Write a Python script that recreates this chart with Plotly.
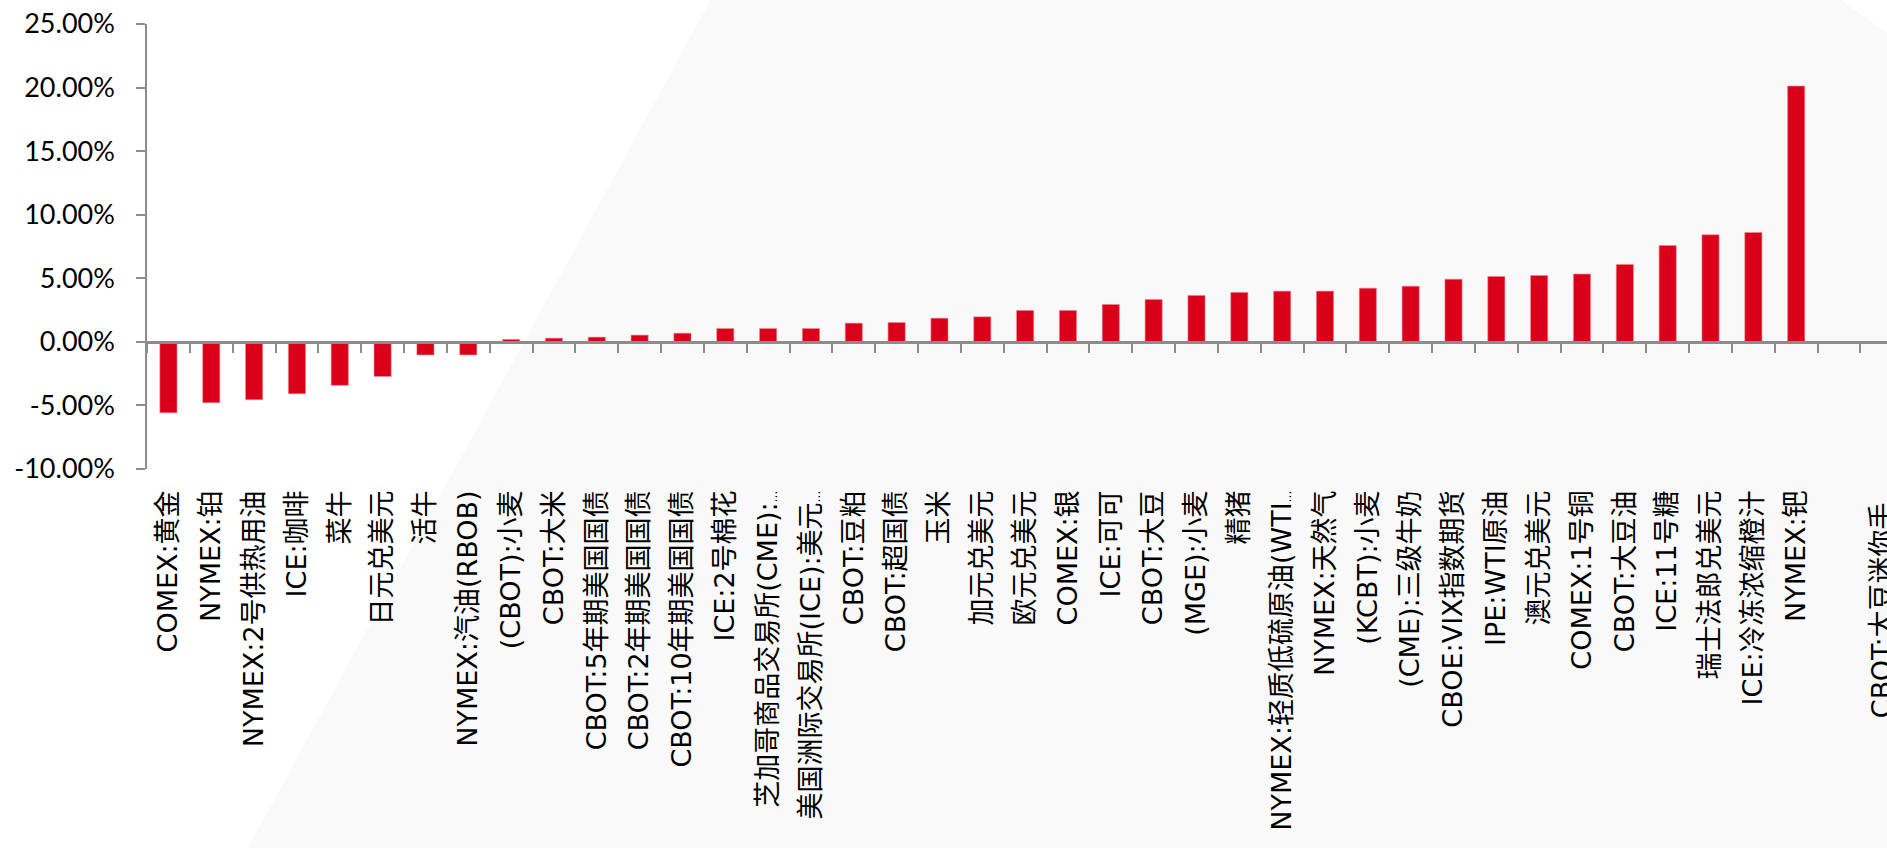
import plotly.graph_objects as go

# ---------------- data ----------------
categories = [
    "COMEX:黄金", "NYMEX:铂", "NYMEX:2号供热用油", "ICE:咖啡", "菜牛", "日元兑美元", "活牛",
    "NYMEX:汽油(RBOB)", "(CBOT):小麦", "CBOT:大米", "CBOT:5年期美国国债", "CBOT:2年期美国国债",
    "CBOT:10年期美国国债", "ICE:2号棉花", "芝加哥商品交易所(CME):…", "美国洲际交易所(ICE):美元…",
    "CBOT:豆粕", "CBOT:超国债", "玉米", "加元兑美元", "欧元兑美元", "COMEX:银", "ICE:可可",
    "CBOT:大豆", "(MGE):小麦", "精猪", "NYMEX:轻质低硫原油(WTI…", "NYMEX:天然气", "(KCBT):小麦",
    "(CME):三级牛奶", "CBOE:VIX指数期货", "IPE:WTI原油", "澳元兑美元", "COMEX:1号铜", "CBOT:大豆油",
    "ICE:11号糖", "瑞士法郎兑美元", "ICE:冷冻浓缩橙汁", "NYMEX:钯", " ", "CBOT:大豆迷你手…",
]
values = [
    -5.58, -4.78, -4.55, -4.08, -3.42, -2.72, -1.03,
    -1.03, 0.19, 0.29, 0.37, 0.53,
    0.68, 1.05, 1.05, 1.05,
    1.47, 1.52, 1.86, 1.97, 2.47, 2.47, 2.94,
    3.33, 3.65, 3.89, 3.99, 3.99, 4.22,
    4.38, 4.93, 5.14, 5.22, 5.33, 6.09,
    7.58, 8.42, 8.60, 20.12, None, None,
]
y_ticks = [-10, -5, 0, 5, 10, 15, 20, 25]
y_tick_text = ["-10.00%", "-5.00%", "0.00%", "5.00%", "10.00%", "15.00%", "20.00%", "25.00%"]

# tick label text: the truncation ellipsis is drawn smaller, as in the original
x_tick_text = [c.replace("…", "<span style='font-size:12px'>…</span>") for c in categories]

# ---------------- layout geometry ----------------
W, H = 1887, 848
ML, MT, MR = 147, 24, 0
PLOT_BOTTOM = 469
MB = H - PLOT_BOTTOM
Y_MIN, Y_MAX = -10, 25
X_RANGE = [-0.5, 40.12]

AXIS_GREY = "#8c8c8c"
BAR_RED = "#DA0019"
BG_GREY = "#f9f9f9"

plot_w = W - ML - MR
plot_h = PLOT_BOTTOM - MT


def px2paper(px, py):
    return (px - ML) / plot_w, (PLOT_BOTTOM - py) / plot_h


bg_pts = [(716, -10), (1826, -10), (1905, 45), (1905, 870), (236, 870)]
path = ""
for i, (px, py) in enumerate(bg_pts):
    xx, yy = px2paper(px, py)
    path += ("M" if i == 0 else "L") + f"{xx:.5f},{yy:.5f} "
path += "Z"

fig = go.Figure()
fig.add_trace(go.Bar(
    x=categories, y=values,
    marker=dict(color=BAR_RED, line=dict(color="#ee8590", width=0.6)),
    showlegend=False, hoverinfo="x+y",
))
# helper trace for the zero-crossing category axis (ticks only)
fig.add_trace(go.Scatter(
    x=categories, y=[None] * len(categories), xaxis="x2", yaxis="y",
    mode="markers", showlegend=False, hoverinfo="skip",
))

zero_pos = (0 - Y_MIN) / (Y_MAX - Y_MIN)

fig.update_layout(
    width=W, height=H,
    margin=dict(l=ML, r=MR, t=MT, b=MB, pad=0),
    paper_bgcolor="white", plot_bgcolor="rgba(0,0,0,0)",
    bargap=0.6,
    showlegend=False,
    shapes=[dict(type="path", path=path, xref="paper", yref="paper",
                 fillcolor=BG_GREY, line=dict(width=0), layer="below")],
    xaxis=dict(
        type="category", range=X_RANGE, showline=False, ticks="", showgrid=False,
        zeroline=False, tickangle=-90, automargin=False, ticklabelstandoff=15,
        tickmode="array", tickvals=categories, ticktext=x_tick_text,
        tickfont=dict(family="DejaVu Sans, Noto Sans CJK SC", size=27, color="black"),
    ),
    xaxis2=dict(
        type="category", overlaying="x", anchor="free", position=zero_pos, matches="x",
        range=X_RANGE, showline=True, linecolor=AXIS_GREY, linewidth=2.5,
        ticks="outside", tickson="boundaries", ticklen=9, tickwidth=1.5, tickcolor=AXIS_GREY,
        showticklabels=False, showgrid=False, zeroline=False, automargin=False,
    ),
    yaxis=dict(
        range=[Y_MIN, Y_MAX], tickmode="array", tickvals=y_ticks, ticktext=y_tick_text,
        showline=True, linecolor=AXIS_GREY, linewidth=1.5,
        ticks="outside", ticklen=9, tickwidth=1.5, tickcolor=AXIS_GREY,
        showgrid=False, zeroline=False, automargin=False, ticklabelstandoff=16,
        tickfont=dict(family="Lato, Carlito, sans-serif", size=27, color="black"),
    ),
)

fig.write_html(
    "out.html",
    config={"displayModeBar": False},
    post_script="document.body.style.margin='0';document.body.style.overflow='hidden';",
)
